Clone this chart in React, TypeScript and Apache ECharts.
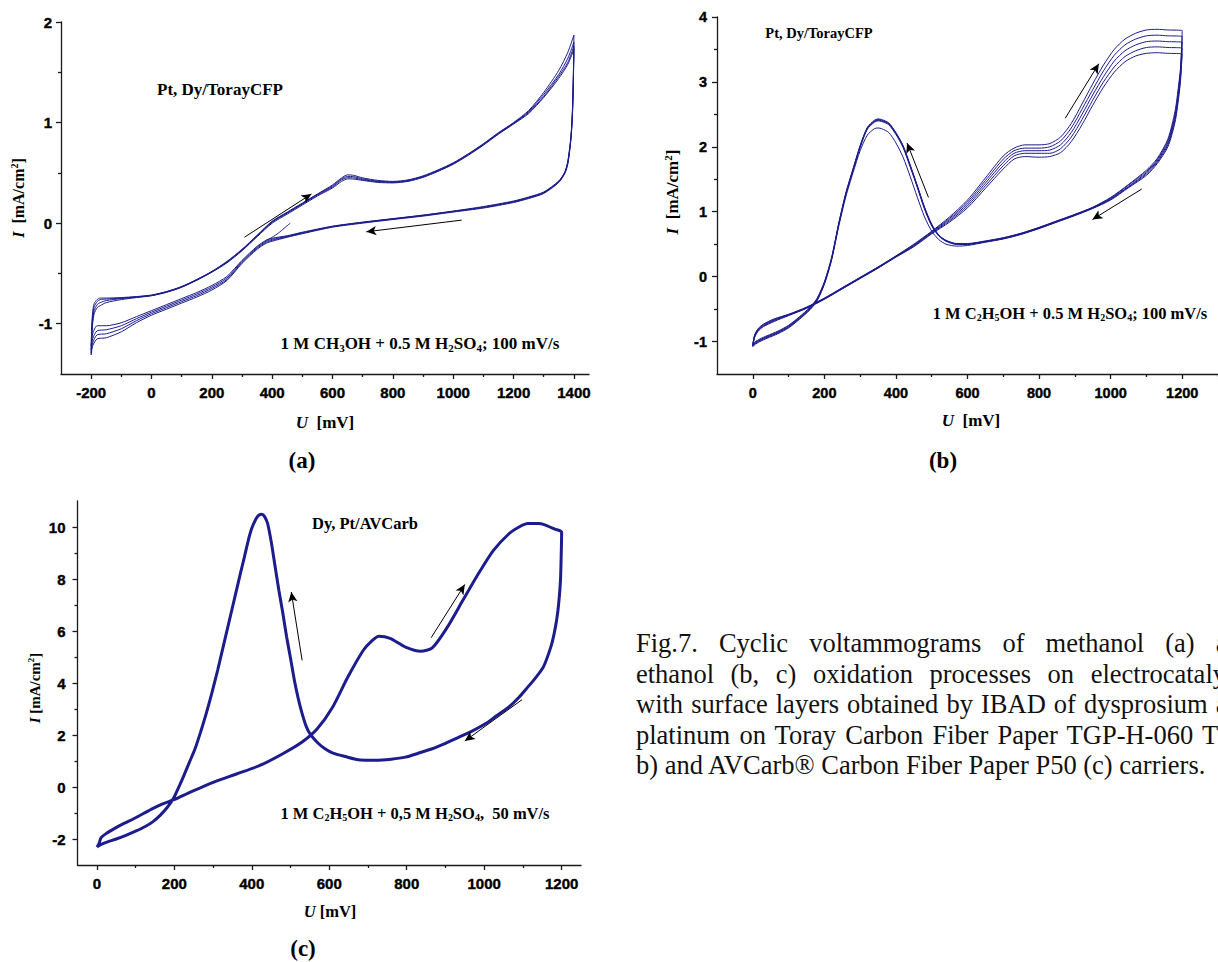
import React, { useEffect, useRef } from 'react';
import * as echarts from 'echarts';

// ---------- (a) methanol on Pt, Dy/TorayCFP, 100 mV/s ----------
const A_FWD_U = [-200, -198, -195, -190, -180, -170, -150, -100, -50, 0, 50, 100, 150, 200, 250, 300, 350, 400, 450, 500, 550, 600, 630, 650, 670, 700, 750, 800, 850, 900, 950, 1000, 1050, 1100, 1150, 1200, 1250, 1300, 1350, 1380, 1400];
const A_FWD_I1 = [-1.22, -1.02, -0.88, -0.8, -0.76, -0.745, -0.745, -0.74, -0.73, -0.715, -0.68, -0.63, -0.56, -0.48, -0.38, -0.26, -0.12, 0.02, 0.11, 0.2, 0.29, 0.38, 0.45, 0.48, 0.475, 0.45, 0.425, 0.415, 0.43, 0.47, 0.53, 0.6, 0.69, 0.79, 0.9, 1.0, 1.12, 1.3, 1.52, 1.7, 1.87];
const A_FWD_I2 = [-1.26, -1.06, -0.92, -0.83, -0.78, -0.76, -0.755, -0.745, -0.733, -0.717, -0.682, -0.632, -0.562, -0.482, -0.385, -0.265, -0.125, 0.015, 0.105, 0.195, 0.285, 0.37, 0.44, 0.465, 0.462, 0.44, 0.418, 0.41, 0.425, 0.465, 0.525, 0.595, 0.685, 0.785, 0.895, 0.995, 1.11, 1.28, 1.48, 1.64, 1.8];
const A_FWD_I3 = [-1.29, -1.1, -0.96, -0.87, -0.81, -0.79, -0.77, -0.75, -0.736, -0.72, -0.685, -0.635, -0.565, -0.485, -0.39, -0.27, -0.13, 0.01, 0.1, 0.19, 0.28, 0.36, 0.43, 0.452, 0.45, 0.432, 0.412, 0.405, 0.42, 0.46, 0.52, 0.59, 0.68, 0.78, 0.89, 0.99, 1.1, 1.26, 1.46, 1.6, 1.76];
const A_FWD_I4 = [-1.31, -1.13, -1.0, -0.9, -0.84, -0.82, -0.79, -0.76, -0.74, -0.722, -0.688, -0.638, -0.568, -0.488, -0.395, -0.275, -0.135, 0.0, 0.09, 0.18, 0.27, 0.35, 0.415, 0.44, 0.438, 0.425, 0.405, 0.4, 0.415, 0.455, 0.515, 0.585, 0.675, 0.775, 0.885, 0.985, 1.09, 1.25, 1.44, 1.58, 1.73];
const A_BWD_U = [1400, 1398, 1395, 1390, 1380, 1370, 1350, 1300, 1250, 1200, 1100, 1000, 900, 800, 700, 600, 500, 450, 400, 380, 350, 300, 250, 200, 150, 100, 50, 0, -50, -100, -150, -180, -195, -200];
const A_BWD_I1 = [1.87, 1.45, 1.12, 0.86, 0.62, 0.51, 0.42, 0.31, 0.26, 0.22, 0.165, 0.12, 0.08, 0.045, 0.01, -0.03, -0.09, -0.125, -0.15, -0.17, -0.23, -0.37, -0.53, -0.62, -0.69, -0.75, -0.81, -0.87, -0.93, -0.99, -1.02, -1.02, -1.1, -1.22];
const A_BWD_I2 = [1.8, 1.42, 1.1, 0.85, 0.61, 0.505, 0.415, 0.305, 0.255, 0.215, 0.16, 0.118, 0.078, 0.043, 0.008, -0.033, -0.095, -0.13, -0.16, -0.18, -0.24, -0.38, -0.545, -0.635, -0.705, -0.765, -0.825, -0.885, -0.95, -1.02, -1.06, -1.07, -1.15, -1.26];
const A_BWD_I3 = [1.76, 1.4, 1.08, 0.84, 0.6, 0.5, 0.41, 0.3, 0.25, 0.21, 0.155, 0.115, 0.075, 0.04, 0.005, -0.036, -0.1, -0.135, -0.17, -0.19, -0.25, -0.39, -0.56, -0.65, -0.72, -0.78, -0.84, -0.9, -0.97, -1.05, -1.1, -1.11, -1.19, -1.29];
const A_BWD_I4 = [1.73, 1.38, 1.06, 0.83, 0.59, 0.495, 0.405, 0.295, 0.245, 0.205, 0.15, 0.11, 0.07, 0.036, 0.0, -0.04, -0.105, -0.14, -0.18, -0.2, -0.26, -0.4, -0.57, -0.665, -0.735, -0.795, -0.855, -0.915, -0.99, -1.08, -1.14, -1.15, -1.22, -1.31];
// first partial sweep from the rest potential
const A_START_U = [460, 440, 420, 400, 380];
const A_START_I = [0.0, -0.05, -0.1, -0.14, -0.17];

// ---------- (b) ethanol on Pt, Dy/TorayCFP, 100 mV/s ----------
const B_FWD_U = [0, 5, 15, 30, 60, 100, 150, 200, 250, 300, 350, 400, 450, 500, 550, 600, 650, 700, 730, 760, 800, 830, 860, 890, 920, 950, 980, 1010, 1040, 1070, 1100, 1130, 1160, 1200];
const B_FWD_I1 = [-1.05, -0.9, -0.8, -0.73, -0.65, -0.58, -0.47, -0.33, -0.17, -0.01, 0.15, 0.32, 0.5, 0.7, 0.92, 1.18, 1.52, 1.86, 1.98, 2.03, 2.03, 2.05, 2.15, 2.36, 2.66, 2.97, 3.26, 3.5, 3.66, 3.75, 3.8, 3.81, 3.8, 3.79];
const B_FWD_I2 = [-1.05, -0.91, -0.81, -0.74, -0.66, -0.585, -0.475, -0.335, -0.175, -0.015, 0.145, 0.315, 0.49, 0.69, 0.9, 1.15, 1.48, 1.81, 1.94, 1.98, 1.98, 2.0, 2.09, 2.29, 2.58, 2.88, 3.17, 3.41, 3.57, 3.66, 3.71, 3.72, 3.71, 3.7];
const B_FWD_I3 = [-1.06, -0.92, -0.82, -0.75, -0.67, -0.59, -0.48, -0.34, -0.18, -0.02, 0.14, 0.31, 0.48, 0.68, 0.88, 1.12, 1.44, 1.76, 1.9, 1.94, 1.94, 1.95, 2.03, 2.22, 2.5, 2.8, 3.08, 3.32, 3.48, 3.57, 3.62, 3.63, 3.62, 3.61];
const B_FWD_I4 = [-1.07, -0.93, -0.83, -0.76, -0.68, -0.595, -0.485, -0.345, -0.185, -0.025, 0.135, 0.305, 0.47, 0.67, 0.86, 1.09, 1.4, 1.71, 1.86, 1.9, 1.9, 1.9, 1.97, 2.15, 2.42, 2.72, 3.0, 3.23, 3.39, 3.48, 3.53, 3.54, 3.53, 3.52];
const B_FWD_I5 = [-1.08, -0.94, -0.84, -0.77, -0.69, -0.6, -0.49, -0.35, -0.19, -0.03, 0.13, 0.3, 0.46, 0.66, 0.84, 1.06, 1.36, 1.66, 1.81, 1.85, 1.84, 1.85, 1.91, 2.08, 2.34, 2.64, 2.92, 3.15, 3.31, 3.4, 3.44, 3.45, 3.44, 3.43];
const B_BWD_U = [1200, 1198, 1195, 1190, 1180, 1160, 1130, 1100, 1050, 1000, 950, 900, 850, 800, 750, 700, 650, 600, 570, 540, 520, 500, 480, 460, 440, 420, 400, 380, 360, 350, 340, 320, 300, 280, 260, 240, 220, 200, 180, 160, 130, 100, 70, 40, 20, 5, 0];
const B_BWD_I1 = [3.79, 3.5, 3.2, 2.95, 2.55, 2.12, 1.82, 1.64, 1.42, 1.22, 1.07, 0.96, 0.86, 0.76, 0.67, 0.6, 0.55, 0.51, 0.51, 0.56, 0.64, 0.81, 1.07, 1.4, 1.72, 2.02, 2.22, 2.37, 2.42, 2.43, 2.41, 2.3, 2.02, 1.66, 1.29, 0.82, 0.29, -0.08, -0.33, -0.47, -0.62, -0.75, -0.84, -0.91, -0.96, -1.01, -1.05];
const B_BWD_I2 = [3.7, 3.45, 3.15, 2.9, 2.5, 2.09, 1.8, 1.62, 1.41, 1.21, 1.065, 0.955, 0.855, 0.755, 0.665, 0.595, 0.545, 0.505, 0.505, 0.555, 0.635, 0.8, 1.06, 1.39, 1.71, 2.01, 2.21, 2.36, 2.41, 2.42, 2.4, 2.29, 2.01, 1.65, 1.28, 0.81, 0.28, -0.09, -0.34, -0.48, -0.63, -0.76, -0.85, -0.92, -0.97, -1.02, -1.05];
const B_BWD_I3 = [3.61, 3.38, 3.1, 2.85, 2.46, 2.06, 1.78, 1.6, 1.39, 1.2, 1.06, 0.95, 0.85, 0.75, 0.66, 0.59, 0.54, 0.5, 0.5, 0.55, 0.63, 0.79, 1.05, 1.38, 1.7, 2.0, 2.2, 2.35, 2.4, 2.41, 2.39, 2.28, 2.0, 1.64, 1.27, 0.8, 0.27, -0.1, -0.35, -0.49, -0.64, -0.77, -0.86, -0.93, -0.98, -1.03, -1.06];
const B_BWD_I4 = [3.52, 3.3, 3.05, 2.8, 2.42, 2.03, 1.76, 1.58, 1.38, 1.19, 1.055, 0.945, 0.845, 0.745, 0.655, 0.585, 0.535, 0.495, 0.495, 0.545, 0.625, 0.78, 1.04, 1.37, 1.69, 1.99, 2.19, 2.34, 2.39, 2.4, 2.38, 2.27, 1.99, 1.63, 1.26, 0.79, 0.26, -0.11, -0.36, -0.5, -0.65, -0.78, -0.87, -0.94, -0.99, -1.04, -1.07];
const B_BWD_I5 = [3.43, 3.25, 3.0, 2.75, 2.38, 2.0, 1.74, 1.56, 1.37, 1.18, 1.05, 0.94, 0.84, 0.74, 0.65, 0.58, 0.53, 0.48, 0.47, 0.5, 0.57, 0.7, 0.92, 1.22, 1.54, 1.84, 2.06, 2.22, 2.28, 2.29, 2.28, 2.18, 1.94, 1.6, 1.23, 0.77, 0.25, -0.12, -0.37, -0.51, -0.66, -0.79, -0.88, -0.95, -1.0, -1.05, -1.08];

// ---------- (c) ethanol on Dy, Pt/AVCarb, 50 mV/s ----------
const C_FWD_U = [0, 5, 11, 25, 45, 70, 95, 120, 144, 170, 199, 243, 302, 362, 421, 480, 530, 569, 609, 648, 688, 710, 728, 757, 797, 836, 866, 905, 945, 985, 1024, 1064, 1090, 1113, 1140, 1153, 1182, 1200];
const C_FWD_I = [-2.31, -2.2, -1.95, -1.78, -1.6, -1.4, -1.22, -1.02, -0.83, -0.65, -0.49, -0.19, 0.19, 0.51, 0.83, 1.28, 1.73, 2.24, 3.08, 4.23, 5.26, 5.62, 5.8, 5.72, 5.38, 5.22, 5.35, 6.15, 7.18, 8.2, 9.1, 9.74, 10.0, 10.13, 10.13, 10.1, 9.92, 9.8];
const C_BWD_U = [1200, 1199, 1197, 1192, 1187, 1180, 1172, 1153, 1130, 1113, 1090, 1064, 1030, 1004, 970, 935, 900, 866, 830, 797, 760, 718, 680, 639, 610, 589, 570, 550, 540, 530, 520, 510, 500, 490, 480, 470, 460, 451, 441, 433, 426, 418, 411, 400, 391, 381, 372, 357, 342, 327, 312, 297, 283, 268, 253, 238, 223, 211, 199, 182, 164, 145, 125, 100, 75, 50, 26, 10, 0];
const C_BWD_I = [9.8, 9.0, 7.95, 7.0, 6.41, 5.85, 5.38, 4.62, 4.15, 3.85, 3.45, 3.08, 2.72, 2.44, 2.16, 1.92, 1.68, 1.47, 1.3, 1.15, 1.07, 1.03, 1.04, 1.18, 1.3, 1.47, 1.7, 2.05, 2.35, 2.82, 3.4, 4.1, 4.95, 5.77, 6.7, 7.56, 8.5, 9.36, 10.13, 10.4, 10.49, 10.45, 10.32, 9.95, 9.49, 8.85, 8.3, 7.35, 6.4, 5.45, 4.5, 3.62, 2.86, 2.12, 1.45, 0.92, 0.38, -0.02, -0.4, -0.78, -1.08, -1.33, -1.52, -1.7, -1.86, -2.0, -2.12, -2.22, -2.31];

// ---------- sweep-direction arrows [U0, I0, U1, I1] ----------
const A_ARROWS = [[308, -0.14, 530, 0.29], [1028, 0.03, 712, -0.086]];
const B_ARROWS = [[491, 1.22, 431, 2.06], [873, 2.44, 967, 3.28], [1087, 1.35, 949, 0.88]];
const C_ARROWS = [[530, 4.87, 502, 7.5], [863, 5.74, 950, 7.79], [1098, 3.36, 950, 1.77]];

// ---------- axis ticks ----------
const A_X_MAJOR = [-200, 0, 200, 400, 600, 800, 1000, 1200, 1400];
const A_X_MINOR = [-100, 100, 300, 500, 700, 900, 1100, 1300];
const A_Y_MAJOR = [-1, 0, 1, 2];
const A_Y_MINOR = [-0.5, 0.5, 1.5];
const B_X_MAJOR = [0, 200, 400, 600, 800, 1000, 1200];
const B_X_MINOR = [100, 300, 500, 700, 900, 1100, 1300];
const B_Y_MAJOR = [-1, 0, 1, 2, 3, 4];
const B_Y_MINOR = [-0.5, 0.5, 1.5, 2.5, 3.5];
const C_X_MAJOR = [0, 200, 400, 600, 800, 1000, 1200];
const C_X_MINOR = [100, 300, 500, 700, 900, 1100];
const C_Y_MAJOR = [-2, 0, 2, 4, 6, 8, 10];
const C_Y_MINOR = [-1, 1, 3, 5, 7, 9];

const CAPTION_LINES = [
  'Fig.7. Cyclic voltammograms of methanol (a) and',
  'ethanol (b, c) oxidation processes on electrocatalysts',
  'with surface layers obtained by IBAD of dysprosium and',
  'platinum on Toray Carbon Fiber Paper TGP-H-060 T (a,',
  'b) and AVCarb® Carbon Fiber Paper P50 (c) carriers.',
];

const SERIF = '"Liberation Serif", "Times New Roman", serif';
const SANS = '"Liberation Sans", Arial, sans-serif';
const INK = '#111111';
const AXIS = '#1a1a1a';
const CURVE = '#1c1c8c';

const pts = (u: number[], i: number[]) => u.map((x, k) => [x, i[k]]);
const loop = (fu: number[], fi: number[], bu: number[], bi: number[]) => [
  ...pts(fu, fi),
  ...pts(bu, bi).slice(1),
];

function rich(size: number) {
  const base = { fontFamily: SERIF, fontWeight: 'bold', fontSize: size, lineHeight: Math.round(size * 1.2), color: INK };
  const small = Math.round(size * 0.62);
  return {
    n: base,
    i: { ...base, fontStyle: 'italic' },
    s: { ...base, fontSize: small, lineHeight: small, padding: [Math.round(size * 0.5), 0, 0, 0] },
    p: { ...base, fontSize: small, lineHeight: small, padding: [0, 0, Math.round(size * 0.5), 0] },
  };
}

function label(x: number, y: number, text: string, size: number, rotation = 0) {
  return {
    type: 'text',
    x,
    y,
    rotation,
    silent: true,
    style: {
      text,
      rich: rich(size),
      align: 'center',
      verticalAlign: 'middle',
      textAlign: 'center',
      textVerticalAlign: 'middle',
    },
  };
}

function axisPair(
  dim: 'x' | 'y',
  gridIndex: number,
  min: number,
  max: number,
  major: number[],
  minor: number[],
  fontSize: number,
  margin: number
) {
  const lineStyle = { color: AXIS, width: 1.3 };
  const main = {
    type: 'value',
    gridIndex,
    min,
    max,
    position: dim === 'x' ? 'bottom' : 'left',
    axisLine: { show: true, onZero: false, lineStyle },
    axisTick: { show: true, inside: false, length: 5, customValues: major, lineStyle },
    axisLabel: {
      show: true,
      customValues: major,
      formatter: (v: number) => `{t|${v}}`,
      margin,
      rich: {
        t: {
          fontFamily: SANS,
          fontWeight: 'bold',
          fontSize,
          color: '#000000',
          textBorderColor: '#000000',
          textBorderWidth: 0.4,
        },
      },
    },
    splitLine: { show: false },
  };
  const sub = {
    type: 'value',
    gridIndex,
    min,
    max,
    position: dim === 'x' ? 'bottom' : 'left',
    axisLine: { show: false, onZero: false },
    axisTick: { show: true, inside: false, length: 3, customValues: minor, lineStyle },
    axisLabel: { show: false },
    splitLine: { show: false },
  };
  return [main, sub];
}

function arrows(list: number[][]) {
  return {
    silent: true,
    symbol: ['none', 'arrow'],
    symbolSize: [7, 10],
    lineStyle: { color: '#000000', width: 1, type: 'solid' },
    label: { show: false },
    emphasis: { disabled: true },
    data: list.map(([u0, i0, u1, i1]) => [{ coord: [u0, i0] }, { coord: [u1, i1] }]),
  };
}

function cycleSeries(name: string, data: number[][], xi: number, width: number, mark?: any) {
  return {
    type: 'line',
    name,
    xAxisIndex: xi,
    yAxisIndex: xi,
    data,
    showSymbol: false,
    symbol: 'none',
    smooth: 0.25,
    lineStyle: { color: CURVE, width },
    silent: true,
    ...(mark ? { markLine: mark } : {}),
  };
}

export default function App() {
  const ref = useRef<HTMLDivElement>(null);

  useEffect(() => {
    if (!ref.current) return;
    const chart = echarts.init(ref.current, undefined, { renderer: 'svg' });

    const xAxis = [
      ...axisPair('x', 0, -300, 1450, A_X_MAJOR, A_X_MINOR, 15, 11),
      ...axisPair('x', 1, -100, 1300, B_X_MAJOR, B_X_MINOR, 14.5, 11),
      ...axisPair('x', 2, -50, 1250, C_X_MAJOR, C_X_MINOR, 15, 11),
    ];
    const yAxis = [
      ...axisPair('y', 0, -1.5, 2, A_Y_MAJOR, A_Y_MINOR, 15, 9),
      ...axisPair('y', 1, -1.5, 4, B_Y_MAJOR, B_Y_MINOR, 14.5, 10),
      ...axisPair('y', 2, -3, 11, C_Y_MAJOR, C_Y_MINOR, 15, 12),
    ];

    const series = [
      cycleSeries('a start', pts(A_START_U, A_START_I), 0, 1, arrows(A_ARROWS)),
      cycleSeries('a cycle 1', loop(A_FWD_U, A_FWD_I1, A_BWD_U, A_BWD_I1), 0, 1),
      cycleSeries('a cycle 2', loop(A_FWD_U, A_FWD_I2, A_BWD_U, A_BWD_I2), 0, 1),
      cycleSeries('a cycle 3', loop(A_FWD_U, A_FWD_I3, A_BWD_U, A_BWD_I3), 0, 1),
      cycleSeries('a cycle 4', loop(A_FWD_U, A_FWD_I4, A_BWD_U, A_BWD_I4), 0, 1),
      cycleSeries('b cycle 1', loop(B_FWD_U, B_FWD_I1, B_BWD_U, B_BWD_I1), 2, 1, arrows(B_ARROWS)),
      cycleSeries('b cycle 2', loop(B_FWD_U, B_FWD_I2, B_BWD_U, B_BWD_I2), 2, 1),
      cycleSeries('b cycle 3', loop(B_FWD_U, B_FWD_I3, B_BWD_U, B_BWD_I3), 2, 1),
      cycleSeries('b cycle 4', loop(B_FWD_U, B_FWD_I4, B_BWD_U, B_BWD_I4), 2, 1),
      cycleSeries('b cycle 5', loop(B_FWD_U, B_FWD_I5, B_BWD_U, B_BWD_I5), 2, 1),
      cycleSeries('c cycle', loop(C_FWD_U, C_FWD_I, C_BWD_U, C_BWD_I), 4, 3, arrows(C_ARROWS)),
    ];

    const yName = '{i|I}{n|  [mA/cm}{p|2}{n|]}';
    const graphic = [
      // panel (a)
      label(220, 89, '{n|Pt, Dy/TorayCFP}', 17),
      label(420, 343, '{n|1 M CH}{s|3}{n|OH + 0.5 M H}{s|2}{n|SO}{s|4}{n|; 100 mV/s}', 17),
      label(18, 198, yName, 16, Math.PI / 2),
      label(325, 422, '{i|U}{n|  [mV]}', 17),
      label(302, 460, '{n|(a)}', 23),
      // panel (b)
      label(819, 33, '{n|Pt, Dy/TorayCFP}', 14.5),
      label(1070, 313, '{n|1 M C}{s|2}{n|H}{s|5}{n|OH + 0.5 M H}{s|2}{n|SO}{s|4}{n|; 100 mV/s}', 16.5),
      label(672, 192, yName, 17, Math.PI / 2),
      label(971, 420, '{i|U}{n|  [mV]}', 17),
      label(943, 460, '{n|(b)}', 23),
      // panel (c)
      label(365, 523, '{n|Dy, Pt/AVCarb}', 16.5),
      label(415, 813, '{n|1 M C}{s|2}{n|H}{s|5}{n|OH + 0,5 M H}{s|2}{n|SO}{s|4}{n|,  50 mV/s}', 16.5),
      label(35, 688, '{i|I}{n| [mA/cm}{p|2}{n|]}', 15, Math.PI / 2),
      label(330, 911, '{i|U}{n| [mV]}', 16.5),
      label(303, 948, '{n|(c)}', 23),
    ];

    chart.setOption({
      animation: false,
      backgroundColor: '#ffffff',
      grid: [
        { left: 61, top: 22, width: 528, height: 352 },
        { left: 717, top: 17, width: 509, height: 357 },
        { left: 77.5, top: 501, width: 503.5, height: 364 },
      ],
      xAxis,
      yAxis,
      series,
      graphic,
    });

    return () => chart.dispose();
  }, []);

  return (
    <div
      style={{
        position: 'fixed',
        left: 0,
        top: 0,
        width: 1218,
        height: 962,
        overflow: 'hidden',
        background: '#ffffff',
      }}
    >
      <div ref={ref} style={{ position: 'absolute', left: 0, top: 0, width: 1218, height: 962 }} />
      <div
        style={{
          position: 'absolute',
          left: 636,
          top: 628,
          width: 618,
          fontFamily: SERIF,
          fontSize: '26.5px',
          lineHeight: '30.5px',
          color: INK,
        }}
      >
        {CAPTION_LINES.map((line, k) => (
          <div
            key={k}
            style={{
              textAlign: k < CAPTION_LINES.length - 1 ? 'justify' : 'left',
              textAlignLast: k < CAPTION_LINES.length - 1 ? 'justify' : 'left',
            }}
          >
            {line}
          </div>
        ))}
      </div>
    </div>
  );
}
